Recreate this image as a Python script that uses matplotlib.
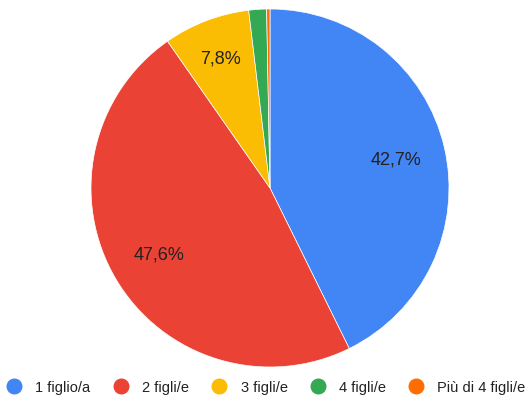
import numpy as np
import matplotlib.pyplot as plt
from matplotlib.lines import Line2D

plt.rcParams['font.family'] = ['Liberation Sans', 'DejaVu Sans']

categorie = ["1 figlio/a", "2 figli/e", "3 figli/e", "4 figli/e", "Più di 4 figli/e"]
percentuali = [42.7, 47.6, 7.8, 1.6, 0.3]
colori = ["#4285f4", "#ea4335", "#fbbc04", "#34a853", "#ff6d01"]

fig = plt.figure(figsize=(5.31, 4.02), dpi=100)
ax = fig.add_axes([91 / 531, 34 / 402, 358 / 531, 358 / 402])

def etichetta(p):
    # mostra solo le fette abbastanza grandi
    return f"{p:.1f}%".replace(".", ",") if p >= 5 else ""

wedges, testi, autotesti = ax.pie(
    percentuali, colors=colori, startangle=90, counterclock=False,
    autopct=etichetta, pctdistance=0.72,
    wedgeprops=dict(edgecolor="white", linewidth=0.5),
    textprops=dict(fontsize=13, color="#222222"))

# sposta un po' più in fuori l'etichetta della fetta gialla
x, y = autotesti[2].get_position()
autotesti[2].set_position((x * 0.78 / 0.72, y * 0.78 / 0.72))
ax.set_aspect("equal")
ax.set_xlim(-1, 1)
ax.set_ylim(-1, 1)

maniglie = [Line2D([], [], marker="o", linestyle="", markersize=10.5,
                   markerfacecolor=c, markeredgecolor=c) for c in colori]
fig.legend(maniglie, categorie, loc="center", bbox_to_anchor=(0.5, 1 - 388 / 402),
           ncol=5, frameon=False, fontsize=10.5, handletextpad=0.87,
           columnspacing=1.46, handlelength=1.2, labelcolor="#222222")

fig.savefig("out.png", dpi=100)
